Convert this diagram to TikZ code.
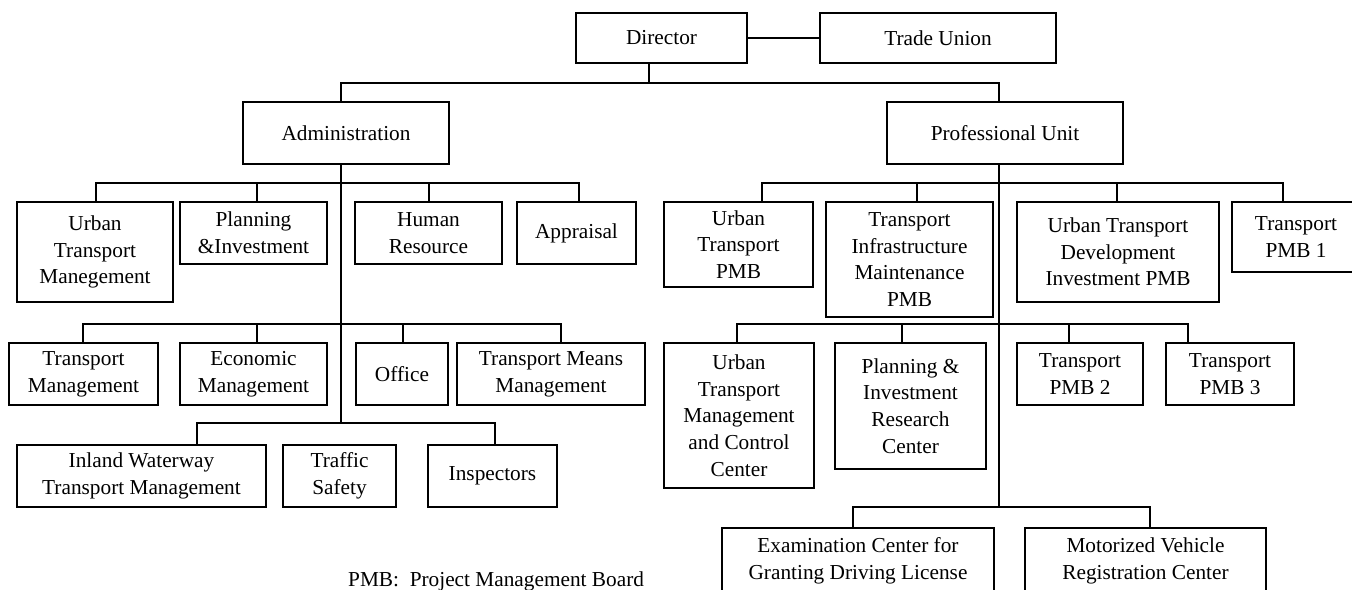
\documentclass[tikz,border=0pt]{standalone}
\usepackage{fontspec}
\setmainfont{Liberation Serif}
\begin{document}
\begin{tikzpicture}[x=1pt,y=-1pt,
  box/.style={draw, line width=1.8pt, inner sep=0pt, align=center,
    font=\fontsize{21.3}{26.7}\selectfont},
  link/.style={line width=1.8pt},
  note/.style={inner sep=0pt, font=\fontsize{21.3}{26.7}\selectfont}]
\useasboundingbox (0,0) rectangle (1352,589);
\clip (0,0) rectangle (1352,589);

% top level
\node[box, minimum width=171pt, minimum height=50pt] (dir) at (661.5,38) {Director};
\node[box, minimum width=236pt, minimum height=50pt] (tu) at (938,38) {Trade Union};
\node[box, minimum width=206pt, minimum height=62pt] (admin) at (346,133) {Administration};
\node[box, minimum width=236pt, minimum height=62pt] (prof) at (1005,133) {Professional Unit};

% administration departments
\node[box, minimum width=156pt, minimum height=100pt] (utm) at (95,252) {Urban\\Transport\\Manegement};
\node[box, minimum width=147pt, minimum height=62pt] (pi) at (253.5,233) {Planning\\\&Investment};
\node[box, minimum width=147pt, minimum height=62pt] (hr) at (428.5,233) {Human\\Resource};
\node[box, minimum width=119pt, minimum height=62pt] (appr) at (576.5,233) {Appraisal};
\node[box, minimum width=149pt, minimum height=62pt] (tm) at (83.5,374) {Transport\\Management};
\node[box, minimum width=147pt, minimum height=62pt] (em) at (253.5,374) {Economic\\Management};
\node[box, minimum width=92pt, minimum height=62pt] (off) at (402,374) {Office};
\node[box, minimum width=188pt, minimum height=62pt] (tmm) at (551,374) {Transport Means\\Management};
\node[box, minimum width=249pt, minimum height=62pt] (iw) at (141.5,476) {Inland Waterway\\Transport Management};
\node[box, minimum width=113pt, minimum height=62pt] (ts) at (339.5,476) {Traffic\\Safety};
\node[box, minimum width=129pt, minimum height=62pt] (insp) at (492.5,476) {Inspectors};

% professional units
\node[box, minimum width=149pt, minimum height=85pt] (utpmb) at (738.5,244.5) {Urban\\Transport\\PMB};
\node[box, minimum width=167pt, minimum height=115pt] (tim) at (909.5,259.5) {Transport\\Infrastructure\\Maintenance\\PMB};
\node[box, minimum width=202pt, minimum height=100pt] (utd) at (1118,252) {Urban Transport\\Development\\Investment PMB};
\node[box, minimum width=128pt, minimum height=70pt] (p1) at (1296,237) {Transport\\PMB 1};
\node[box, minimum width=150pt, minimum height=145pt] (utmcc) at (739,415.5) {Urban\\Transport\\Management\\and Control\\Center};
\node[box, minimum width=151pt, minimum height=126pt] (pirc) at (910.5,406) {Planning \&\\Investment\\Research\\Center};
\node[box, minimum width=126pt, minimum height=62pt] (p2) at (1080,374) {Transport\\PMB 2};
\node[box, minimum width=128pt, minimum height=62pt] (p3) at (1230,374) {Transport\\PMB 3};
\node[box, minimum width=272pt, minimum height=66pt] (exam) at (858,561) {Examination Center for\\Granting Driving License};
\node[box, minimum width=241pt, minimum height=66pt] (mv) at (1145.5,561) {Motorized Vehicle\\Registration Center};

% footnote
\node[note, anchor=base west] (legend) at (348,586) {PMB:\ \ Project Management Board};

% junction points on the trunks
\coordinate (jD) at (649,83);
\coordinate (jA1) at (341,183);
\coordinate (jA2) at (341,324);
\coordinate (jA3) at (341,423);
\coordinate (jP1) at (999,183);
\coordinate (jP2) at (999,324);
\coordinate (jP3) at (999,507);

% director links
\draw[link] (dir.east) -- (tu.west);
\draw[link] (dir.south -| jD) -- (jD);
\draw[link] (jD) -| (admin.north -| jA1);
\draw[link] (jD) -| (prof.north -| jP1);

% administration tree
\draw[link] (admin.south -| jA1) -- (jA3);
\draw[link] (jA1) -| (utm.north -| 96,0);
\draw[link] (jA1) -| (pi.north -| 257,0);
\draw[link] (jA1) -| (hr.north -| 429,0);
\draw[link] (jA1) -| (appr.north -| 579,0);
\draw[link] (jA2) -| (tm.north -| 83,0);
\draw[link] (jA2) -| (em.north -| 257,0);
\draw[link] (jA2) -| (off.north -| 403,0);
\draw[link] (jA2) -| (tmm.north -| 561,0);
\draw[link] (jA3) -| (iw.north -| 197,0);
\draw[link] (jA3) -| (insp.north -| 495,0);

% professional unit tree
\draw[link] (prof.south -| jP1) -- (jP3);
\draw[link] (jP1) -| (utpmb.north -| 762,0);
\draw[link] (jP1) -| (tim.north -| 917,0);
\draw[link] (jP1) -| (utd.north -| 1117,0);
\draw[link] (jP1) -| (p1.north -| 1283,0);
\draw[link] (jP2) -| (utmcc.north -| 737,0);
\draw[link] (jP2) -| (pirc.north -| 902,0);
\draw[link] (jP2) -| (p2.north -| 1069,0);
\draw[link] (jP2) -| (p3.north -| 1188,0);
\draw[link] (jP3) -| (exam.north -| 853,0);
\draw[link] (jP3) -| (mv.north -| 1150,0);
\end{tikzpicture}
\end{document}
